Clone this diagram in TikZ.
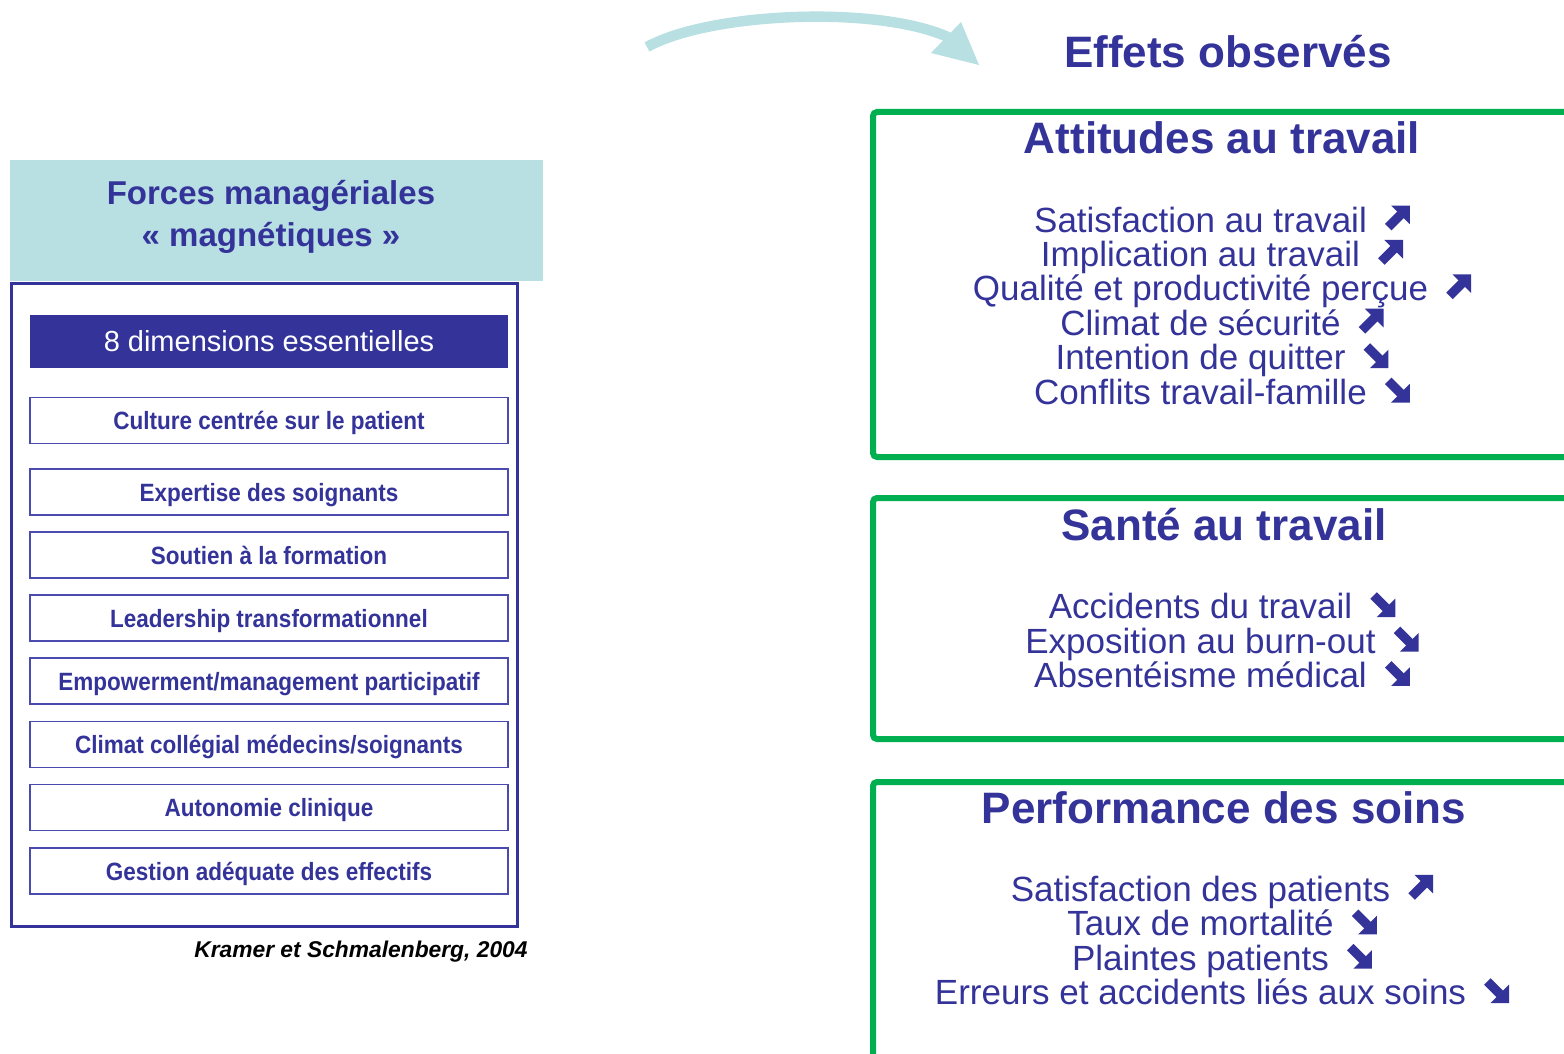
\documentclass[tikz,border=0pt]{standalone}
\usepackage{fontspec}
\setmainfont{Liberation Sans}
\newfontfamily\narrowsf[FakeStretch=0.9]{Liberation Sans}
\definecolor{navy}{HTML}{333399}
\definecolor{itemborder}{HTML}{4B4BAF}
\definecolor{tealbg}{HTML}{B8DFE2}
\definecolor{boxgreen}{HTML}{00B050}
\newcommand\uparr{\hspace{9pt}\tikz[baseline=-0.8pt,x=1pt,y=1pt]{\useasboundingbox (0,0) rectangle (12.5,12.5);\draw[navy,line width=4.6pt] (1.7,1.7) -- (8,8);\fill[navy] (12.5,12.5) -- (3.2,12.5) -- (12.5,3.2) -- cycle;}}
\newcommand\dnarr{\hspace{9pt}\tikz[baseline=-0.8pt,x=1pt,y=1pt]{\useasboundingbox (0,0) rectangle (12.5,12.5);\draw[navy,line width=4.6pt] (1.7,10.8) -- (8,4.5);\fill[navy] (12.5,0) -- (3.2,0) -- (12.5,9.3) -- cycle;}}
\begin{document}
\begin{tikzpicture}[x=0.5pt,y=-0.5pt,
  itembox/.style={draw=itemborder, line width=0.75pt, minimum width=239pt, minimum height=22.8pt, inner sep=0pt, text height=9pt, text depth=0pt, text=navy, font=\narrowsf\bfseries\fontsize{12.5}{15}\selectfont},
  greenbox/.style={draw=boxgreen, line width=3pt, rounded corners=2pt},
  bigtitle/.style={text=navy, inner sep=0pt, font=\bfseries\fontsize{22}{26}\selectfont},
  effects/.style={text=navy, inner sep=0pt, align=center, font=\fontsize{17.5}{17.2}\selectfont}]
\useasboundingbox (0,0) rectangle (1564,1054);
\fill[white] (0,0) rectangle (1564,1054);
\clip (0,0) rectangle (1564,1054);

% curved arrow
\coordinate (ca) at (647,47);
\coordinate (cb) at (950,38);
\draw[tealbg, line width=5.2pt] (ca) .. controls (710,12) and (880,5) .. (cb);
\fill[tealbg] (979,65) -- (961,22) -- (931,53) -- cycle;

% left column
\node[fill=tealbg, minimum width=266.5pt, minimum height=60.5pt, inner sep=0pt, anchor=north west] (head) at (10,160) {};
\node[text=navy, align=center, inner sep=0pt, font=\bfseries\fontsize{16.5}{21}\selectfont] (headtxt) at (271,217) {Forces managériales\\«~magnétiques~»};
\draw[navy, line width=1.5pt] (11,283) rectangle (517,926);
\node[fill=navy, minimum width=239pt, minimum height=26.5pt, inner sep=0pt, text height=10.4pt, text depth=0pt, text=white, font=\fontsize{14.5}{17}\selectfont] (dims) at (269,341.5) {8 dimensions essentielles};
\node[itembox] (i1) at (269,420.5) {Culture centrée sur le patient};
\node[itembox] (i2) at (269,492) {Expertise des soignants};
\node[itembox] (i3) at (269,555) {Soutien à la formation};
\node[itembox] (i4) at (269,618) {Leadership transformationnel};
\node[itembox] (i5) at (269,681) {Empowerment/management participatif};
\node[itembox] (i6) at (269,744.5) {Climat collégial médecins/soignants};
\node[itembox] (i7) at (269,807.5) {Autonomie clinique};
\node[itembox] (i8) at (269,871) {Gestion adéquate des effectifs};
\node[anchor=east, inner sep=0pt, font=\bfseries\itshape\fontsize{11.4}{14}\selectfont] (ref) at (528,952) {Kramer et Schmalenberg, 2004};

% right column
\node[bigtitle] (eff) at (1228,52) {Effets observés};
\draw[greenbox] (1600,112) -| (873,457) -- (1600,457);
\draw[greenbox] (1600,498) -| (873,739) -- (1600,739);
\draw[greenbox] (1600,782) -| (873,1100);
\node[bigtitle] (t1) at (1222,138) {Attitudes au travail};
\node[bigtitle] (t2) at (1224,525) {Santé au travail};
\node[bigtitle] (t3) at (1224,808) {Performance des soins};
\node[effects] (e1) at (1222,305) {Satisfaction au travail\uparr\\Implication au travail\uparr\\Qualité et productivité perçue\uparr\\Climat de sécurité\uparr\\Intention de quitter\dnarr\\Conflits travail-famille\dnarr};
\node[effects] (e2) at (1222,640) {Accidents du travail\dnarr\\Exposition au burn-out\dnarr\\Absentéisme médical\dnarr};
\node[effects] (e3) at (1222,940) {Satisfaction des patients\uparr\\Taux de mortalité\dnarr\\Plaintes patients\dnarr\\Erreurs et accidents liés aux soins\dnarr};
\end{tikzpicture}
\end{document}
